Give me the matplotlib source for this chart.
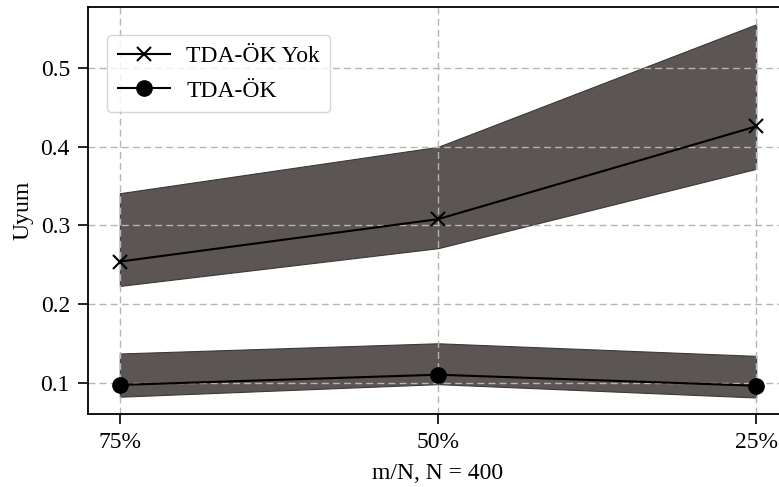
import numpy as np
import matplotlib.pyplot as plt

plt.rcParams['font.family'] = ['Liberation Serif', 'DejaVu Serif']

x_labels = ['75%', '50%', '25%']

# TDA-ÖK Yok
yok_mean = [0.254, 0.308, 0.426]
yok_low = [0.223, 0.271, 0.372]
yok_high = [0.341, 0.400, 0.556]

# TDA-ÖK
ok_mean = [0.097, 0.110, 0.096]
ok_low = [0.082, 0.098, 0.081]
ok_high = [0.137, 0.150, 0.134]

x = np.arange(len(x_labels))

fig = plt.figure(figsize=(7.79, 4.87), dpi=100)
ax = fig.add_axes([88 / 779, 73 / 487, 700 / 779, 407 / 487])

fill_color = '#5b5553'
ax.fill_between(x, yok_low, yok_high, facecolor=fill_color, edgecolor='#3c3836', linewidth=0.8, zorder=1)
ax.fill_between(x, ok_low, ok_high, facecolor=fill_color, edgecolor='#3c3836', linewidth=0.8, zorder=1)

ax.plot(x, yok_mean, color='black', marker='x', markersize=10, markeredgewidth=1.5, linewidth=1.5,
        label='TDA-ÖK Yok', zorder=3)
ax.plot(x, ok_mean, color='black', marker='o', markersize=11, linewidth=1.5,
        label='TDA-ÖK', zorder=3)

ax.set_xlim(-0.1, 2.1)
ax.set_ylim(0.06, 0.578)
ax.set_xticks(x)
ax.set_xticklabels(x_labels)
ax.set_yticks([0.1, 0.2, 0.3, 0.4, 0.5])
ax.tick_params(labelsize=17, length=7, width=1.2, direction='out', pad=6)

ax.set_xlabel('m/N, N = 400', fontsize=17, labelpad=7)
ax.set_ylabel('Uyum', fontsize=17, labelpad=5)

ax.set_axisbelow('line')
ax.grid(True, linestyle='--', color='#b5b5b5', linewidth=1.0, dashes=(5, 3))

for s in ax.spines.values():
    s.set_linewidth(1.3)

ax.legend(loc='upper left', fontsize=17, handlelength=2.2, handletextpad=0.7,
          frameon=True, fancybox=True, edgecolor='#cccccc', framealpha=0.8,
          bbox_to_anchor=(19 / 700, 1 - 28 / 407), borderaxespad=0,
          borderpad=0.45, labelspacing=0.55)

fig.savefig('out.png', dpi=100)
